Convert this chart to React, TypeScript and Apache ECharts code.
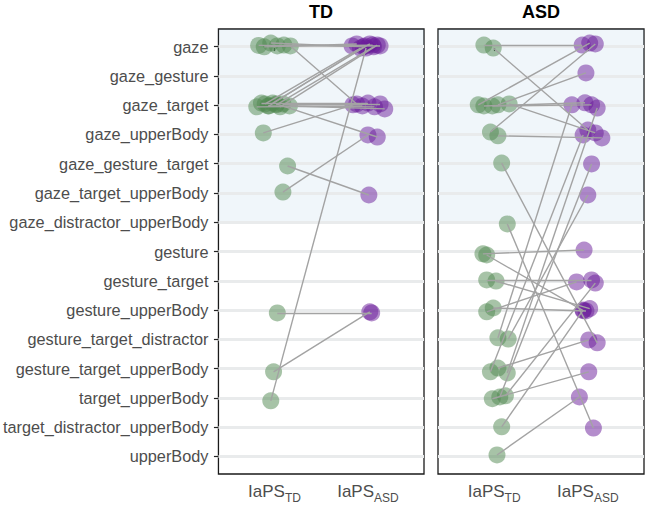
import React, { useEffect, useRef } from 'react';
import * as echarts from 'echarts';

const categories = [
  'gaze', 'gaze_gesture', 'gaze_target', 'gaze_upperBody', 'gaze_gesture_target',
  'gaze_target_upperBody', 'gaze_distractor_upperBody', 'gesture', 'gesture_target',
  'gesture_upperBody', 'gesture_target_distractor', 'gesture_target_upperBody',
  'target_upperBody', 'target_distractor_upperBody', 'upperBody',
];
const panelTitles = ['TD', 'ASD'];
const xSubscripts = ['TD', 'ASD'];
const shadedUpTo = 'gaze_distractor_upperBody';

// TD panel: each pair = green point (IaPS_TD) -> purple point (IaPS_ASD), with jitter
const tdFromCat = ['gaze', 'gaze', 'gaze', 'gaze', 'gaze', 'gaze',
  'gaze_target', 'gaze_target', 'gaze_target', 'gaze_target', 'gaze_target',
  'gaze_target', 'gaze_target', 'gaze_target', 'gaze_target', 'gaze_target',
  'gaze_target', 'gaze_upperBody', 'gaze_gesture_target', 'gaze_target_upperBody',
  'target_upperBody', 'gesture_upperBody', 'gesture_target_upperBody'];
const tdFromJx = [-0.17, -0.11, -0.04, 0.03, 0.10, 0.17, -0.10, -0.06, -0.02, 0.02, 0.06,
  -0.19, -0.14, -0.07, 0.09, 0.16, 0.02, -0.12, 0.14, 0.09, -0.04, 0.03, -0.01];
const tdFromJy = [-0.04, 0.01, -0.12, -0.02, -0.05, -0.02, -0.04, 0.03, -0.07, -0.01, 0.06,
  0.06, -0.07, 0.03, -0.04, 0.03, -0.04, -0.05, 0.08, -0.03, 0.10, 0.10, 0.11];
const tdToCat = ['gaze', 'gaze', 'gaze', 'gaze', 'gaze', 'gaze_target',
  'gaze', 'gaze', 'gaze', 'gaze', 'gaze',
  'gaze_target', 'gaze_target', 'gaze_target', 'gaze_target', 'gaze_target',
  'gaze_upperBody', 'gaze_target', 'gaze_target_upperBody', 'gaze_upperBody',
  'gaze', 'gesture_upperBody', 'gesture_upperBody'];
const tdToJx = [-0.17, -0.12, -0.05, 0.05, 0.13, -0.12, -0.08, -0.03, 0.02, 0.06, 0.10,
  -0.06, 0.00, 0.07, 0.13, 0.18, 0.10, -0.16, 0.01, 0.00, -0.02, 0.04, 0.02];
const tdToJy = [-0.02, -0.09, 0.01, -0.05, -0.02, -0.04, 0.05, -0.02, -0.09, 0.01, -0.05,
  0.03, -0.07, 0.06, -0.04, 0.13, 0.09, -0.01, 0.07, 0.02, 0.05, 0.10, 0.06];

// ASD panel
const asdFromCat = ['gaze', 'gaze', 'gaze_target', 'gaze_target', 'gaze_target', 'gaze_target',
  'gaze_target', 'gaze_upperBody', 'gaze_upperBody', 'gaze_gesture_target',
  'gaze_distractor_upperBody', 'gesture', 'gesture', 'gesture_target', 'gesture_target',
  'gesture_upperBody', 'gesture_upperBody', 'gesture_target_distractor',
  'gesture_target_distractor', 'gesture_target_upperBody', 'gesture_target_upperBody',
  'gesture_target_upperBody', 'target_upperBody', 'target_upperBody', 'target_upperBody',
  'target_distractor_upperBody', 'upperBody'];
const asdFromJx = [-0.11, -0.01, -0.17, -0.11, -0.02, 0.04, 0.16, -0.04, 0.04, 0.08, 0.14,
  -0.12, -0.08, -0.08, 0.02, -0.08, -0.01, 0.04, 0.15, -0.04, 0.04, 0.14, -0.02, 0.06, 0.12,
  0.08, 0.03];
const asdFromJy = [-0.05, 0.05, -0.01, 0.03, 0.03, -0.01, -0.04, -0.08, 0.05, -0.02, 0.06,
  0.08, 0.12, -0.03, 0.01, 0.06, -0.07, -0.05, -0.01, 0.11, -0.02, 0.15, 0.03, -0.03, -0.07,
  -0.01, -0.05];
const asdToCat = ['gaze', 'gaze_upperBody', 'gaze', 'gaze_target', 'gaze_target', 'gaze_gesture',
  'gaze_upperBody', 'gaze', 'gaze_upperBody', 'gesture_target_distractor',
  'target_distractor_upperBody', 'gesture', 'gesture_upperBody', 'gesture_target',
  'gesture_upperBody', 'gesture_target', 'gesture_upperBody', 'gaze_target',
  'gaze_target_upperBody', 'gaze_upperBody', 'gesture_target_distractor', 'gaze_target',
  'gesture_target_upperBody', 'gaze_gesture_target', 'gesture_target', 'gesture_upperBody',
  'target_upperBody'];
const asdToJx = [-0.06, 0.00, 0.02, -0.03, 0.04, -0.02, 0.08, 0.08, 0.15, 0.10, 0.06,
  -0.04, -0.05, 0.04, 0.02, -0.12, -0.02, -0.17, 0.00, -0.05, 0.01, 0.10, 0.01, 0.04, 0.08,
  -0.05, -0.09];
const asdToJy = [-0.05, -0.15, -0.12, -0.08, -0.01, -0.10, -0.05, -0.09, 0.12, 0.12, 0.03,
  -0.05, 0.02, -0.03, -0.05, 0.04, 0.03, -0.01, 0.07, 0.02, 0.02, 0.10, 0.11, 0.01, 0.08,
  0.00, -0.03];

const GREEN = '#4f874f';
const PURPLE = '#6a1b9a';
const FONT = 'Liberation Sans, Arial, Helvetica, sans-serif';

function buildPanel(fc: string[], fx: number[], fy: number[], tc: string[], tx: number[], ty: number[]) {
  const green: number[][] = [];
  const purple: number[][] = [];
  const lines: any[] = [];
  fc.forEach((c, i) => {
    const a = [1 + fx[i], categories.indexOf(c) + fy[i]];
    const b = [2 + tx[i], categories.indexOf(tc[i]) + ty[i]];
    green.push(a);
    purple.push(b);
    lines.push({ coords: [a, b] });
  });
  return { green, purple, lines };
}

export default function App() {
  const ref = useRef<HTMLDivElement>(null);
  useEffect(() => {
    if (!ref.current) return;
    const chart = echarts.init(ref.current, undefined, { renderer: 'svg' });
    const panels = [
      buildPanel(tdFromCat, tdFromJx, tdFromJy, tdToCat, tdToJx, tdToJy),
      buildPanel(asdFromCat, asdFromJx, asdFromJy, asdToCat, asdToJx, asdToJy),
    ];
    const lefts = [218, 438];
    const W = 206;
    const rowIdx = categories.map((_, i) => i);
    const shadeEnd = categories.indexOf(shadedUpTo) + 0.03;

    const series: any[] = [];
    panels.forEach((p, k) => {
      series.push({
        type: 'lines', coordinateSystem: 'cartesian2d', xAxisIndex: k, yAxisIndex: k,
        silent: true, z: 2,
        lineStyle: { color: '#e9ebec', width: 3, opacity: 1 },
        data: rowIdx.map((i) => ({ coords: [[0.4, i], [2.6, i]] })),
        markArea: {
          silent: true,
          itemStyle: { color: 'rgba(110,165,210,0.1)' },
          data: [[{ yAxis: -0.6 }, { yAxis: shadeEnd }]],
        },
      });
      series.push({
        type: 'scatter', xAxisIndex: k, yAxisIndex: k, z: 3, silent: true,
        symbolSize: 17, itemStyle: { color: GREEN, opacity: 0.5 }, data: p.green,
      });
      series.push({
        type: 'scatter', xAxisIndex: k, yAxisIndex: k, z: 3, silent: true,
        symbolSize: 17, itemStyle: { color: PURPLE, opacity: 0.5 }, data: p.purple,
      });
      series.push({
        type: 'lines', coordinateSystem: 'cartesian2d', xAxisIndex: k, yAxisIndex: k,
        silent: true, z: 4,
        lineStyle: { color: '#a3a3a3', width: 1.4, opacity: 1 },
        data: p.lines,
      });
    });

    chart.setOption({
      animation: false,
      backgroundColor: '#fff',
      graphic: panelTitles.map((t, k) => ({
        type: 'text', x: lefts[k] + W / 2, y: 12,
        style: {
          text: t, fill: '#000', font: `bold 18px ${FONT}`,
          align: 'center', verticalAlign: 'middle', textAlign: 'center', textVerticalAlign: 'middle',
        },
      })),
      grid: lefts.map((l) => ({
        left: l, width: W, top: 29, height: 445, show: true,
        borderColor: '#1a1a1a', borderWidth: 1.3, backgroundColor: '#fff',
      })),
      xAxis: lefts.map((_, k) => ({
        type: 'value', gridIndex: k, min: 0.4, max: 2.6,
        axisLine: { show: false },
        splitLine: { show: false },
        axisTick: { show: true, customValues: [1, 2], length: 4.5, lineStyle: { color: '#222', width: 1.2 } },
        axisLabel: {
          show: true, customValues: [1, 2], margin: 9,
          formatter: (v: number) => `{m|IaPS}{s|${xSubscripts[Math.round(v) - 1] ?? ''}}`,
          rich: {
            m: { fontSize: 17, color: '#4d4d4d', fontFamily: FONT, verticalAlign: 'bottom', padding: [0, 0, 4, 0] },
            s: { fontSize: 12, color: '#4d4d4d', fontFamily: FONT, verticalAlign: 'bottom' },
          },
        },
      })),
      yAxis: lefts.map((_, k) => ({
        type: 'value', gridIndex: k, min: -0.6, max: 14.6, inverse: true,
        axisLine: { show: false },
        splitLine: { show: false },
        axisTick: { show: k === 0, customValues: rowIdx, length: 4.5, lineStyle: { color: '#222', width: 1.2 } },
        axisLabel: {
          show: k === 0, customValues: rowIdx, margin: 10,
          color: '#4d4d4d', fontSize: 16.3, fontFamily: FONT,
          formatter: (v: number) => categories[Math.round(v)] ?? '',
        },
      })),
      series,
    });
    return () => chart.dispose();
  }, []);
  return <div ref={ref} style={{ position: 'fixed', left: 0, top: 0, width: 645, height: 506 }} />;
}
